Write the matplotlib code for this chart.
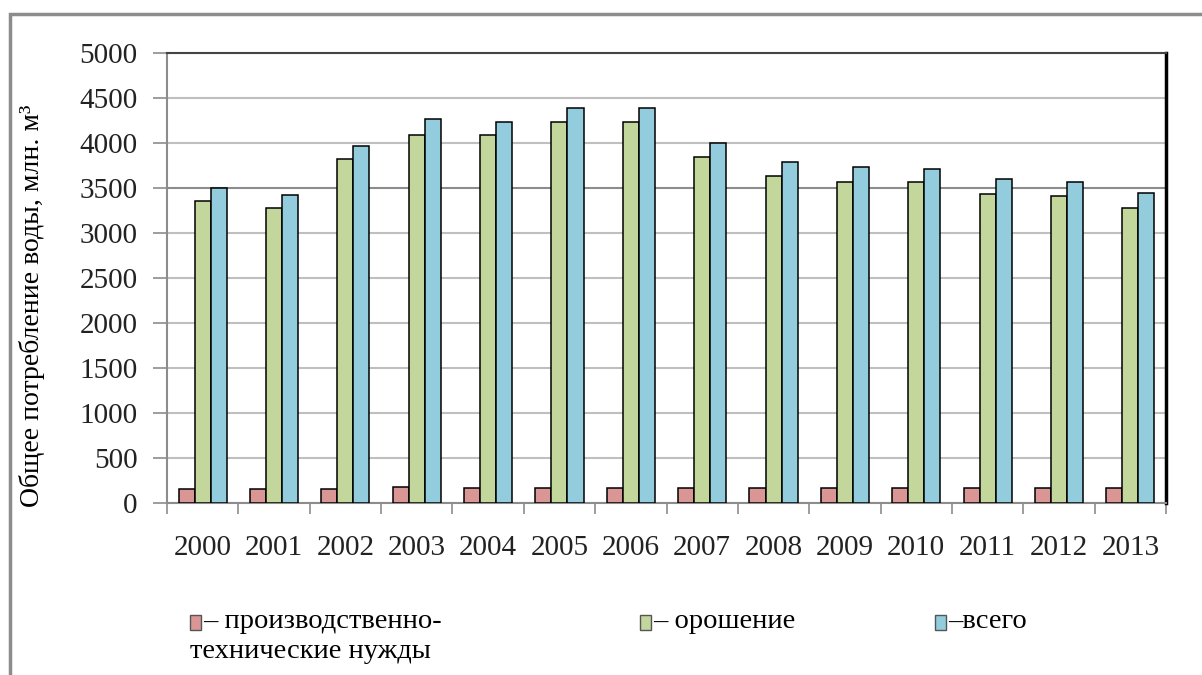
import numpy as np
import matplotlib
matplotlib.use("Agg")
import matplotlib.pyplot as plt
from matplotlib.patches import Rectangle

years = ["2000", "2001", "2002", "2003", "2004", "2005", "2006",
         "2007", "2008", "2009", "2010", "2011", "2012", "2013"]
industrial = [152, 152, 152, 175, 163, 163, 163, 163, 163, 163, 163, 163, 163, 163]
irrigation = [3352, 3274, 3819, 4086, 4086, 4231, 4231,
              3842, 3634, 3570, 3563, 3434, 3411, 3274]
total = [3503, 3422, 3970, 4264, 4237, 4390, 4390,
         4000, 3793, 3734, 3712, 3597, 3570, 3441]

series_labels = ["– производственно-", "– орошение", "–всего"]
colors = ["#D99694", "#C3D69B", "#93CDDD"]

plt.rcParams['font.family'] = ['Liberation Serif', 'DejaVu Serif']

fig = plt.figure(figsize=(12.02, 6.75), dpi=100)
ax = fig.add_axes([0.1389, 0.2548, 0.8312, 0.6667])

x = np.arange(len(years))
w = 0.225
for k, vals in enumerate([industrial, irrigation, total]):
    ax.bar(x + (k - 1) * w, vals, width=w, color=colors[k],
           edgecolor="black", linewidth=1.1, zorder=3)

ax.set_xlim(-0.5, len(years) - 0.5)
ax.set_ylim(0, 5000)
ax.set_yticks(range(0, 5001, 500))
ax.yaxis.grid(True, color="#BFBFBF", linewidth=1.5, zorder=0)
ax.get_ygridlines()[7].set_color("#8C8C8C")

ax.set_xticks(x)
ax.set_xticklabels(years)
ax.set_xticks(np.arange(-0.5, len(years), 1.0), minor=True)
ax.tick_params(axis="x", which="major", length=0, pad=23, labelsize=21, colors="#222222")
ax.tick_params(axis="x", which="minor", length=8, width=1.2, color="#8C8C8C", direction="out")
ax.tick_params(axis="y", length=10, width=1.2, color="#8C8C8C", pad=11, labelsize=21, labelcolor="#222222")

for s in ["left", "bottom"]:
    ax.spines[s].set_color("#8C8C8C")
    ax.spines[s].set_linewidth(1.5)
ax.spines["top"].set_color("#444444")
ax.spines["top"].set_linewidth(1.5)
ax.spines["right"].set_color("black")
ax.spines["right"].set_linewidth(2.5)

ax.set_ylabel("Общее потребление воды, млн. м³", fontsize=20)
ax.yaxis.set_label_coords(-0.122, 0.438)

# outer frame
fig.patches.append(Rectangle((10 / 1202, -0.1), 1.2, 1.1 - 14 / 675,
                             transform=fig.transFigure, fill=False,
                             edgecolor="#8C8C8C", linewidth=2.5))

# legend
leg_items = [(190, series_labels[0]), (640, series_labels[1]), (935, series_labels[2])]
for k, (px, lab) in enumerate(leg_items):
    fig.patches.append(Rectangle((px / 1202, 1 - 630 / 675), 11 / 1202, 15 / 675,
                                 transform=fig.transFigure, facecolor=colors[k],
                                 edgecolor="#555555", linewidth=1))
    fig.text((px + 13) / 1202, 1 - 622 / 675, lab, fontsize=20.5, va="center", ha="left")
fig.text(190 / 1202, 1 - 652 / 675, "технические нужды", fontsize=20.5, va="center", ha="left")

fig.savefig("out.png", dpi=100)
